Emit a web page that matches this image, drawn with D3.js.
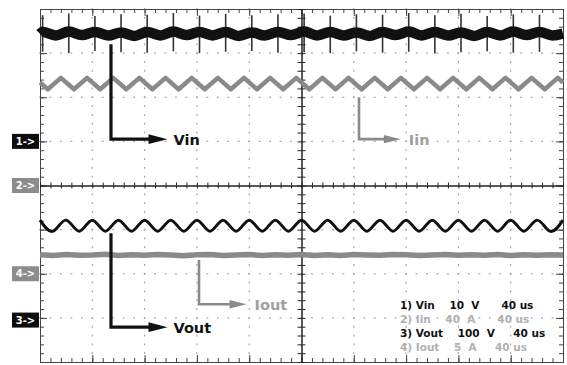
<!DOCTYPE html>
<html>
<head>
<meta charset="utf-8">
<script src="https://cdn.jsdelivr.net/npm/d3@7"></script>
<style>
  html, body { margin: 0; padding: 0; background: #fff; }
  svg { display: block; }
  .legend text { white-space: pre; }
</style>
</head>
<body>
<div id="chart"></div>
<script>
// time base 40 us/div over 10 divisions, 8 vertical divisions
const timeDomain = [0, 400];
const divDomain = [-4, 4];

// channels: volts/amps per div and ground marker position (in divisions)
const channelNames = ['Vin', 'Iin', 'Vout', 'Iout'];
const channelPerDiv = [10, 40, 100, 5];
const channelOffset = [1, 0, -3.05, -2];
const markerLabels = ['1->', '2->', '4->', '3->'];
const markerDiv = [1, 0, -2, -3.05];
const markerDark = [true, false, false, true];

// Vin (V): ripple bumps every 20 us
const vinT = [0, 2, 12, 22, 32, 42, 52, 62, 72, 82, 92, 102, 112, 122, 132, 142, 152, 162, 172, 182, 192,
  202, 212, 222, 232, 242, 252, 262, 272, 282, 292, 302, 312, 322, 332, 342, 352, 362, 372, 382, 392, 400];
const vinV = [24.4, 24.8, 24.0, 24.9, 24.1, 24.8, 24.0, 24.7, 23.9, 24.8, 24.0, 24.9, 24.1, 24.8, 24.0, 24.8,
  23.9, 24.7, 24.0, 24.8, 24.1, 24.9, 24.0, 24.8, 24.0, 24.7, 23.9, 24.8, 24.1, 24.9, 24.0, 24.8, 24.0, 24.7,
  23.9, 24.8, 24.0, 24.9, 24.1, 24.8, 24.0, 24.4];
// switching spikes on Vin
const spikeT = [2, 22, 42, 62, 82, 102, 122, 142, 162, 182, 202, 222, 242, 262, 282, 302, 322, 342, 362, 382];
const spikeTop = [28.6, 29.0, 28.4, 28.8, 28.7, 29.1, 28.5, 28.9, 28.6, 28.8, 29.0, 28.5, 28.8, 28.7, 29.1, 28.6, 28.9, 28.4, 28.8, 28.7];
const spikeBottom = [20.3, 20.0, 20.5, 20.2, 20.1, 20.4, 20.0, 20.3, 20.5, 20.1, 20.2, 20.0, 20.4, 20.1, 20.3, 19.9, 20.2, 20.4, 20.1, 20.3];

// Iin (A): triangle ripple, peaks at 16 + 20k us
const iinT = [0, 6, 16, 26, 36, 46, 56, 66, 76, 86, 96, 106, 116, 126, 136, 146, 156, 166, 176, 186, 196,
  206, 216, 226, 236, 246, 256, 266, 276, 286, 296, 306, 316, 326, 336, 346, 356, 366, 376, 386, 396, 400];
const iinV = [93.4, 87.2, 97.6, 87.2, 97.6, 87.2, 97.6, 87.2, 97.6, 87.2, 97.6, 87.2, 97.6, 87.2, 97.6, 87.2,
  97.6, 87.2, 97.6, 87.2, 97.6, 87.2, 97.6, 87.2, 97.6, 87.2, 97.6, 87.2, 97.6, 87.2, 97.6, 87.2, 97.6, 87.2,
  97.6, 87.2, 97.6, 87.2, 97.6, 87.2, 97.6, 93.4];

// Vout (V): sinusoidal ripple, peaks at 20k us
const voutT = [0, 10, 20, 30, 40, 50, 60, 70, 80, 90, 100, 110, 120, 130, 140, 150, 160, 170, 180, 190, 200,
  210, 220, 230, 240, 250, 260, 270, 280, 290, 300, 310, 320, 330, 340, 350, 360, 370, 380, 390, 400];
const voutV = [226.5, 201.5, 226.5, 201.5, 226.5, 201.5, 226.5, 201.5, 226.5, 201.5, 226.5, 201.5, 226.5, 201.5,
  226.5, 201.5, 226.5, 201.5, 226.5, 201.5, 226.5, 201.5, 226.5, 201.5, 226.5, 201.5, 226.5, 201.5, 226.5,
  201.5, 226.5, 201.5, 226.5, 201.5, 226.5, 201.5, 226.5, 201.5, 226.5, 201.5, 226.5];

// Iout (A): flat with noise
const ioutT = voutT;
const ioutV = [2.14, 2.06, 2.18, 2.10, 2.13, 2.20, 2.07, 2.15, 2.09, 2.17, 2.12, 2.05, 2.16, 2.19, 2.08, 2.13,
  2.17, 2.06, 2.14, 2.11, 2.19, 2.08, 2.15, 2.06, 2.17, 2.12, 2.09, 2.19, 2.14, 2.06, 2.12, 2.17, 2.09, 2.15,
  2.11, 2.19, 2.07, 2.14, 2.10, 2.16, 2.12];

// trace annotations: x in us, y in divisions
const arrowNames = ['Vin', 'Iin', 'Vout', 'Iout'];
const arrowX = [54.3, 244, 54.3, 121.6];
const arrowTop = [3.2, 2.0, -1.08, -1.69];
const arrowBottom = [1.05, 1.05, -3.21, -2.69];
const arrowEnd = [97.5, 276, 97.5, 158];
const arrowDark = [true, false, true, false];

// scope settings readout
const legendLines = ['1) Vin    10  V      40 us', '2) Iin    40  A      40 us', '3) Vout    100  V     40 us', '4) Iout    5  A     40 us'];
const legendDark = [true, false, true, false];

const width = 567, height = 365;
const margin = {top: 9, right: 4, bottom: 3, left: 40};
const black = '#111', gray = '#8a8a8a', lightGray = '#b0b0b0';

const svg = d3.select('#chart').append('svg')
  .attr('width', width).attr('height', height)
  .attr('viewBox', `0 0 ${width} ${height}`);

const x = d3.scaleLinear().domain(timeDomain).range([margin.left, width - margin.right]);
const xDiv = d3.scaleLinear().domain([0, 10]).range(x.range());
const yDiv = d3.scaleLinear().domain(divDomain).range([height - margin.bottom, margin.top]);

function channelScale(i) {
  const pd = channelPerDiv[i], off = channelOffset[i];
  return d3.scaleLinear().domain([(divDomain[0] - off) * pd, (divDomain[1] - off) * pd]).range(yDiv.range());
}

// dotted graticule
const minorX = d3.range(0, 10.001, 0.2);
const minorY = d3.range(-4, 4.001, 0.2);
const grid = svg.append('g').attr('fill', '#a0a0a0');
[1, 2, 3, 4, 6, 7, 8, 9].forEach(d => {
  grid.selectAll(null).data(minorY).enter().append('rect')
    .attr('x', xDiv(d) - 0.6).attr('y', v => yDiv(v) - 0.9)
    .attr('width', 1.2).attr('height', 1.8);
});
[-3, -2, -1, 1, 2, 3].forEach(d => {
  grid.selectAll(null).data(minorX).enter().append('rect')
    .attr('x', v => xDiv(v) - 0.9).attr('y', yDiv(d) - 0.6)
    .attr('width', 1.8).attr('height', 1.2);
});

// border and centre axes with tick marks
const majorX = d3.range(0, 10.001, 1);
const majorY = d3.range(-4, 4.001, 1);
function addAxis(axis, transform, ticks, size, color) {
  const g = svg.append('g').attr('transform', transform)
    .call(axis.tickValues(ticks).tickSizeInner(size).tickSizeOuter(0).tickFormat(''));
  g.selectAll('path, line').attr('stroke', color);
  return g;
}
const borderColor = '#444';
addAxis(d3.axisBottom(xDiv), `translate(0,${yDiv(4)})`, minorX, 4, borderColor);
addAxis(d3.axisBottom(xDiv), `translate(0,${yDiv(4)})`, majorX, 7, borderColor);
addAxis(d3.axisTop(xDiv), `translate(0,${yDiv(-4)})`, minorX, 4, borderColor);
addAxis(d3.axisTop(xDiv), `translate(0,${yDiv(-4)})`, majorX, 7, borderColor);
addAxis(d3.axisRight(yDiv), `translate(${xDiv(0)},0)`, minorY, 4, borderColor);
addAxis(d3.axisRight(yDiv), `translate(${xDiv(0)},0)`, majorY, 7, borderColor);
addAxis(d3.axisLeft(yDiv), `translate(${xDiv(10)},0)`, minorY, 4, borderColor);
addAxis(d3.axisLeft(yDiv), `translate(${xDiv(10)},0)`, majorY, 7, borderColor);

const axisColor = '#222';
addAxis(d3.axisBottom(xDiv), `translate(0,${yDiv(0)})`, minorX, 3, axisColor);
addAxis(d3.axisTop(xDiv), `translate(0,${yDiv(0)})`, minorX, 3, axisColor);
addAxis(d3.axisRight(yDiv), `translate(${xDiv(5)},0)`, minorY, 4, axisColor);
addAxis(d3.axisLeft(yDiv), `translate(${xDiv(5)},0)`, minorY, 4, axisColor);

// traces
const traces = svg.append('g').attr('fill', 'none');

const yIout = channelScale(3);
traces.append('path')
  .attr('d', d3.line().x((d, i) => x(ioutT[i])).y(d => yIout(d))(ioutV))
  .attr('stroke', gray).attr('stroke-width', 5.5);

const yIin = channelScale(1);
traces.append('path')
  .attr('d', d3.line().x((d, i) => x(iinT[i])).y(d => yIin(d))(iinV))
  .attr('stroke', gray).attr('stroke-width', 4.5).attr('stroke-linejoin', 'round');

const yVout = channelScale(2);
traces.append('path')
  .attr('d', d3.line().curve(d3.curveNatural).x((d, i) => x(voutT[i])).y(d => yVout(d))(voutV))
  .attr('stroke', black).attr('stroke-width', 3);

const yVin = channelScale(0);
traces.selectAll('line.spike').data(spikeT).enter().append('line')
  .attr('class', 'spike')
  .attr('x1', d => x(d)).attr('x2', d => x(d))
  .attr('y1', (d, i) => yVin(spikeTop[i])).attr('y2', (d, i) => yVin(spikeBottom[i]))
  .attr('stroke', '#333').attr('stroke-width', 1.6);
traces.append('path')
  .attr('d', d3.line().curve(d3.curveMonotoneX).x((d, i) => x(vinT[i])).y(d => yVin(d))(vinV))
  .attr('stroke', black).attr('stroke-width', 10.5);

// channel ground markers on the left
const markers = svg.append('g');
markerLabels.forEach((label, i) => {
  const cy = yDiv(markerDiv[i]);
  markers.append('rect')
    .attr('x', 12).attr('y', cy - 7.5).attr('width', 27).attr('height', 15)
    .attr('fill', markerDark[i] ? '#0d0d0d' : '#8c8c8c');
  markers.append('text')
    .attr('x', 25.5).attr('y', cy + 3.6)
    .attr('text-anchor', 'middle')
    .attr('font-family', 'DejaVu Sans, sans-serif').attr('font-weight', 'bold').attr('font-size', 10)
    .attr('fill', '#fff').text(label);
});

// annotation arrows
const arrows = svg.append('g');
arrowNames.forEach((name, i) => {
  const color = arrowDark[i] ? black : gray;
  const ax = x(arrowX[i]), y0 = yDiv(arrowTop[i]), y1 = yDiv(arrowBottom[i]), ex = x(arrowEnd[i]);
  const headLen = arrowDark[i] ? 19 : 17, headHalf = arrowDark[i] ? 4.8 : 4.2;
  arrows.append('path')
    .attr('d', `M${ax},${y0}V${y1}H${ex - headLen + 2}`)
    .attr('fill', 'none').attr('stroke', color)
    .attr('stroke-width', arrowDark[i] ? 3.2 : 2.6);
  arrows.append('path')
    .attr('d', `M${ex},${y1}L${ex - headLen},${y1 - headHalf}L${ex - headLen},${y1 + headHalf}Z`)
    .attr('fill', color);
  arrows.append('text')
    .attr('x', ex + (arrowDark[i] ? 6 : 8)).attr('y', y1 + 5.5)
    .attr('font-family', 'DejaVu Sans, sans-serif').attr('font-weight', 'bold').attr('font-size', 14.5)
    .attr('fill', arrowDark[i] ? black : '#a0a0a0').text(name);
});

// settings readout
const legend = svg.append('g').attr('class', 'legend');
legendLines.forEach((line, i) => {
  legend.append('text')
    .attr('x', 400).attr('y', 308.5 + i * 14)
    .attr('font-family', 'DejaVu Sans, sans-serif').attr('font-weight', 'bold').attr('font-size', 10.5)
    .attr('fill', legendDark[i] ? black : lightGray).text(line);
});
</script>
</body>
</html>
